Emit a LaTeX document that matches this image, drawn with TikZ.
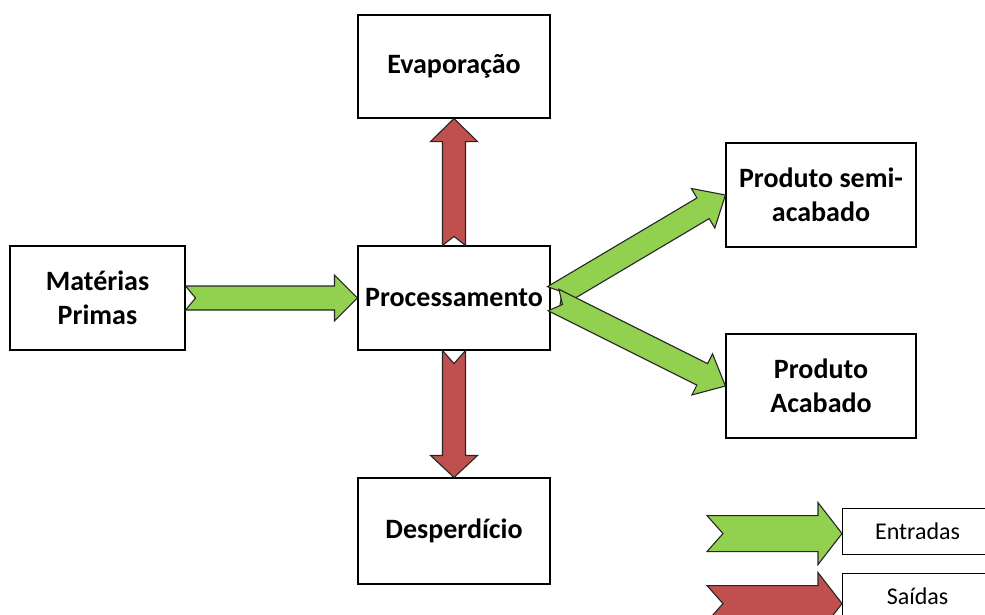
\documentclass[tikz,border=0pt]{standalone}
\usepackage{fontspec}
\setmainfont{Carlito}
\usetikzlibrary{calc}
\definecolor{ingreen}{HTML}{92D050}
\definecolor{outred}{HTML}{C0504D}
\tikzset{
  box/.style={draw=black, line width=1.1pt, fill=white, inner sep=0pt, align=center,
    font=\bfseries\fontsize{28}{34}\selectfont},
  legbox/.style={draw=black, line width=1.1pt, fill=white, inner sep=0pt, align=center,
    font=\fontsize{24}{26}\selectfont},
  flowline/.style={draw=black!85, line width=1.1pt, line join=miter}
}
% #1 start, #2 end, #3 fill colour, #4 shaft half width, #5 head half width, #6 head length, #7 notch depth
\newcommand\flowarrow[7]{%
  \path let \p1=(#1), \p2=(#2), \n1={atan2(\y2-\y1,\x2-\x1)}, \n2={veclen(\x2-\x1,\y2-\y1)} in
    \pgfextra{\xdef\fAng{\n1}\xdef\fLen{\n2}\xdef\fSx{\x1}\xdef\fSy{\y1}};
  \begin{scope}[shift={(\fSx,\fSy)}, rotate=\fAng, x=1pt, y=1pt]
    \path[flowline, fill=#3] (0,-#4) -- ({\fLen-#6},-#4) -- ({\fLen-#6},-#5) -- (\fLen,0)
      -- ({\fLen-#6},#5) -- ({\fLen-#6},#4) -- (0,#4) -- (#7,0) -- cycle;
  \end{scope}}
\begin{document}
\begin{tikzpicture}[x=1pt, y=-1pt]
\useasboundingbox (0,0) rectangle (985,614);
\fill[white] (0,0) rectangle (985,614);

\node[box, minimum width=175pt, minimum height=104pt] (mp) at (97.5,298) {Matérias\\Primas};
\node[box, minimum width=192pt, minimum height=104pt] (proc) at (454,298) {Processamento};
\node[box, minimum width=192pt, minimum height=103pt] (evap) at (454,66.5) {Evaporação};
\node[box, minimum width=192pt, minimum height=106pt] (desp) at (454,531) {Desperdício};
\node[box, minimum width=190pt, minimum height=104pt] (semi) at (821,195) {Produto semi-\\acabado};
\node[box, minimum width=190pt, minimum height=104pt] (acab) at (821,386) {Produto\\Acabado};

\node[legbox, minimum width=150pt, minimum height=46pt, anchor=north west] (ent) at (842,508) {Entradas};
\node[legbox, minimum width=150pt, minimum height=46pt, anchor=north west] (sai) at (842,573) {Saídas};

\coordinate (t1) at ($(proc.east)+(3,-1)$);
\coordinate (t2) at ($(proc.east)+(3,2)$);
\coordinate (l1) at ($(ent.west)+(-135,2)$);
\coordinate (e1) at ($(ent.west)+(0,2)$);
\coordinate (l2) at ($(sai.west)+(-135,7)$);
\coordinate (e2) at ($(sai.west)+(0,7)$);

\flowarrow{mp.east}{proc.west}{ingreen}{12}{23}{23}{10}
\flowarrow{proc.north}{evap.south}{outred}{11.5}{23.5}{23}{9}
\flowarrow{proc.south}{desp.north}{outred}{11.5}{23.5}{22}{13}
\flowarrow{t1}{semi.west}{ingreen}{12}{23}{26}{10}
\flowarrow{t2}{acab.west}{ingreen}{12}{23}{26}{10}
\flowarrow{l1}{e1}{ingreen}{18}{31}{24}{16}
\flowarrow{l2}{e2}{outred}{18}{31}{24}{16}
\end{tikzpicture}
\end{document}
